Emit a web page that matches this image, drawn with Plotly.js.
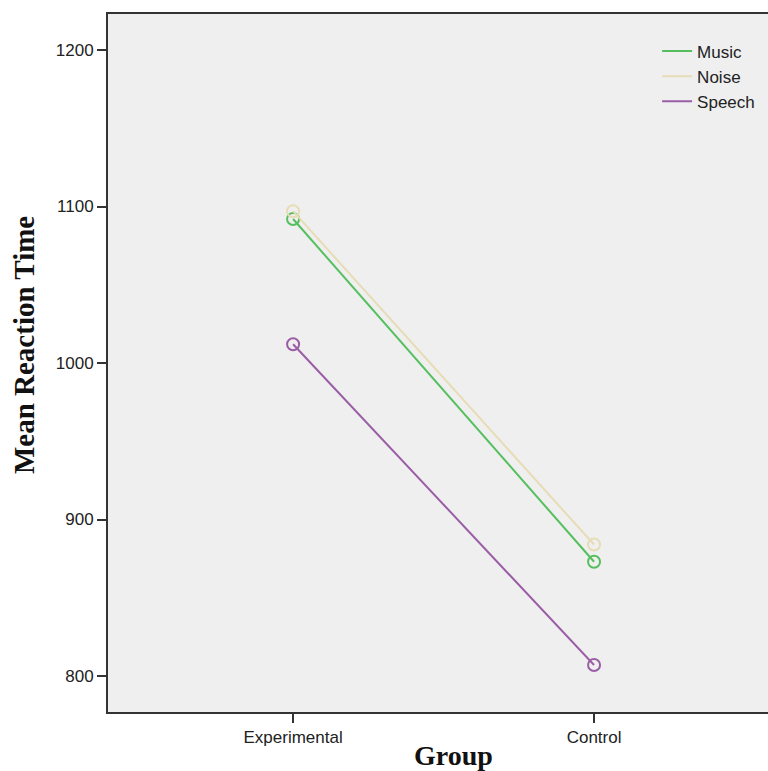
<!DOCTYPE html>
<html>
<head>
<meta charset="utf-8">
<script src="https://cdn.plot.ly/plotly-3.0.1.min.js"></script>
<style>
  html, body { margin: 0; padding: 0; background: #ffffff; }
  #chart { width: 768px; height: 771px; }
</style>
</head>
<body>
<div id="chart"></div>
<script>
// Mean reaction time by group for each sound condition
const groups = ["Experimental", "Control"];
const conditions = ["Music", "Noise", "Speech"];
const music = [1092, 873];
const noise = [1097, 884];
const speech = [1012, 807];
const yTicks = [800, 900, 1000, 1100, 1200];
const colors = ["#55bf5e", "#e6dcb6", "#9a5ea6"];
const series = [music, noise, speech];

const sans = "Liberation Sans, Arial, sans-serif";
const serif = "Liberation Serif, Times New Roman, serif";

const traces = [];
// Plotted lines with open circle markers
series.forEach((vals, i) => {
  traces.push({
    x: groups,
    y: vals,
    type: "scatter",
    mode: "lines+markers",
    name: conditions[i],
    legendgroup: conditions[i],
    showlegend: false,
    line: { color: colors[i], width: 2 },
    marker: { symbol: "circle-open", size: 12, color: colors[i], line: { width: 2, color: colors[i] } },
    hoverinfo: "x+y+name"
  });
});
// Line-only legend entries
series.forEach((vals, i) => {
  traces.push({
    x: [null],
    y: [null],
    type: "scatter",
    mode: "lines",
    name: conditions[i],
    legendgroup: conditions[i],
    line: { color: colors[i], width: 2 },
    hoverinfo: "skip"
  });
});

const layout = {
  width: 768,
  height: 771,
  margin: { l: 108, r: 0, t: 14, b: 59 },
  paper_bgcolor: "#ffffff",
  plot_bgcolor: "#efefef",
  font: { family: sans, color: "#222222", size: 18 },
  xaxis: {
    type: "category",
    range: [-0.615, 1.578],
    showgrid: false,
    zeroline: false,
    showline: true,
    linecolor: "#333333",
    linewidth: 2,
    mirror: true,
    ticks: "outside",
    ticklen: 9,
    tickwidth: 2,
    tickcolor: "#333333",
    tickfont: { family: sans, size: 17, color: "#222222" }
  },
  yaxis: {
    range: [777, 1223],
    tickvals: yTicks,
    showgrid: false,
    zeroline: false,
    showline: true,
    linecolor: "#333333",
    linewidth: 2,
    ticks: "outside",
    ticklen: 9,
    tickwidth: 2,
    tickcolor: "#333333",
    tickfont: { family: sans, size: 17, color: "#222222" }
  },
  annotations: [
    {
      text: "<b>Mean Reaction Time</b>",
      textangle: -90,
      xref: "paper",
      yref: "paper",
      x: -0.128,
      y: 0.525,
      xanchor: "center",
      yanchor: "middle",
      showarrow: false,
      font: { family: serif, size: 29, color: "#111111" }
    },
    {
      text: "<b>Group</b>",
      xref: "paper",
      yref: "paper",
      x: 0.524,
      y: -0.063,
      xanchor: "center",
      yanchor: "middle",
      showarrow: false,
      font: { family: serif, size: 28, color: "#111111" }
    }
  ],
  legend: {
    x: 0.832,
    y: 0.972,
    xanchor: "left",
    yanchor: "top",
    bgcolor: "rgba(0,0,0,0)",
    font: { family: sans, size: 17, color: "#222222" },
    tracegroupgap: 0,
    itemwidth: 30
  },
  showlegend: true
};

Plotly.newPlot("chart", traces, layout, { displayModeBar: false, staticPlot: true });
</script>
</body>
</html>
